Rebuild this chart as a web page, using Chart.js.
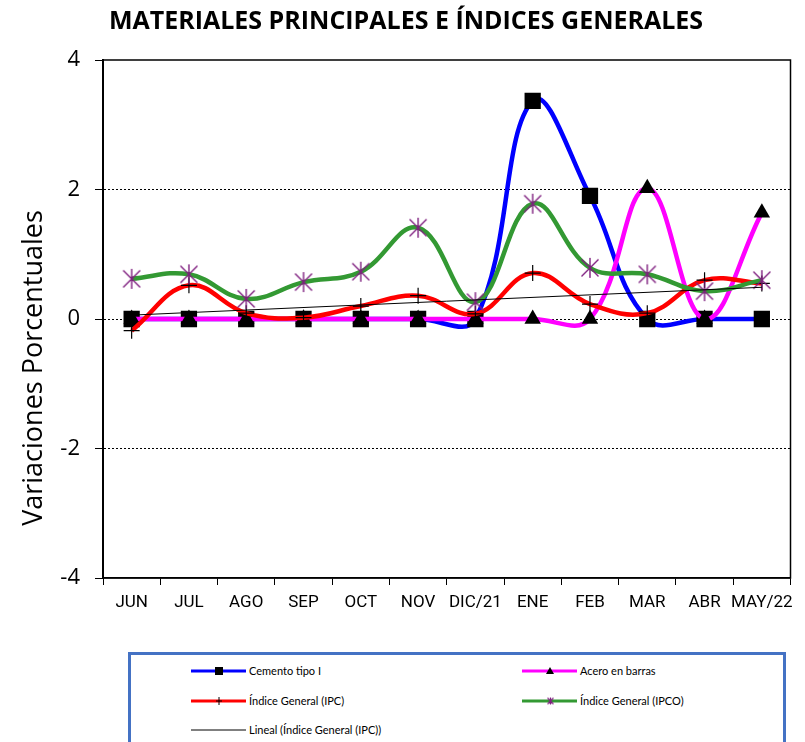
<!DOCTYPE html>
<html>
<head>
<meta charset="utf-8">
<script src="https://cdn.jsdelivr.net/npm/chart.js@4.4.1/dist/chart.umd.min.js"></script>
<style>
  html, body { margin: 0; padding: 0; background: #fff; }
  #wrap { position: relative; width: 805px; height: 742px; overflow: hidden; }
  #chart { position: absolute; left: 0; top: 0; }
  #legend {
    position: absolute; left: 128px; top: 652px; width: 658px; height: 110px;
    border: 3px solid #4472C4; box-sizing: border-box; background: #fff;
    font-family: Lato, "Open Sans", sans-serif; font-size: 11px; color: #000;
  }
  .item { position: absolute; height: 14px; line-height: 14px; white-space: nowrap; }
  .item canvas { position: absolute; left: 0; top: 0; }
  .item span { position: absolute; left: 58px; top: 0; }
</style>
</head>
<body>
<div id="wrap">
  <canvas id="chart" width="805" height="742"></canvas>
  <div id="legend"></div>
</div>
<script>
// Data
const months = ['JUN', 'JUL', 'AGO', 'SEP', 'OCT', 'NOV', 'DIC/21', 'ENE', 'FEB', 'MAR', 'ABR', 'MAY/22'];
const cemento = [0, 0, 0, 0, 0, 0, 0, 3.37, 1.9, 0, 0, 0];
const acero = [0, 0, 0, 0, 0, 0, 0, 0, 0, 2.02, 0, 1.64];
const ipc = [-0.18, 0.52, 0.09, 0.02, 0.2, 0.36, 0.08, 0.71, 0.23, 0.09, 0.6, 0.55];
const ipco = [0.62, 0.69, 0.31, 0.57, 0.73, 1.41, 0.26, 1.78, 0.79, 0.69, 0.43, 0.6];
// trend line of IPC: only its two ends
const tendencia = [0.06, null, null, null, null, null, null, null, null, null, null, 0.49];
const yTicks = [-4, -2, 0, 2, 4];

// star marker (X with a vertical bar) like the one in the picture
function makeStar(size, color, lw) {
  const c = document.createElement('canvas');
  c.width = size; c.height = size;
  const g = c.getContext('2d');
  const m = size / 2, r = size / 2 - 1;
  g.strokeStyle = color;
  g.lineWidth = lw;
  g.beginPath();
  g.moveTo(m - r * 0.85, m - r * 0.85); g.lineTo(m + r * 0.85, m + r * 0.85);
  g.moveTo(m + r * 0.85, m - r * 0.85); g.lineTo(m - r * 0.85, m + r * 0.85);
  g.moveTo(m, m - r); g.lineTo(m, m + r);
  g.stroke();
  return c;
}
const starBig = makeStar(22, '#7f1f7f', 1.4);

// box around the plot area, the title and the y axis title (placed like the picture)
const framePlugin = {
  id: 'frame',
  afterDraw(chart) {
    const a = chart.chartArea, ctx = chart.ctx;
    ctx.save();
    ctx.strokeStyle = '#000';
    ctx.lineWidth = 1.5;
    ctx.strokeRect(a.left, a.top, a.right - a.left, a.bottom - a.top);
    ctx.fillStyle = '#000';
    ctx.textAlign = 'center';
    ctx.textBaseline = 'middle';
    ctx.font = 'bold 25px "Open Sans"';
    ctx.fillText('MATERIALES PRINCIPALES E ÍNDICES GENERALES', 406, 22);
    ctx.translate(34, 368);
    ctx.rotate(-Math.PI / 2);
    ctx.font = '27px "Open Sans"';
    ctx.fillText('Variaciones Porcentuales', 0, 0);
    ctx.restore();
  }
};

const ctx = document.getElementById('chart').getContext('2d');
new Chart(ctx, {
  type: 'line',
  data: {
    labels: months,
    datasets: [
      {
        label: 'Cemento tipo I', data: cemento, order: 5,
        borderColor: '#0000ff', borderWidth: 4.5, tension: 0.4,
        pointStyle: 'rect', pointRadius: 11.5, pointBackgroundColor: '#000', pointBorderColor: '#000', pointBorderWidth: 0
      },
      {
        label: 'Acero en barras', data: acero, order: 4,
        borderColor: '#ff00ff', borderWidth: 4.5, tension: 0.4,
        pointStyle: 'triangle', pointRadius: 9.5, pointBackgroundColor: '#000', pointBorderColor: '#000', pointBorderWidth: 0
      },
      {
        label: 'Índice General (IPC)', data: ipc, order: 3,
        borderColor: '#ff0000', borderWidth: 4.5, tension: 0.4,
        pointStyle: 'cross', pointRadius: 8, pointBorderColor: '#000', pointBorderWidth: 1.2
      },
      {
        label: 'Índice General (IPCO)', data: ipco, order: 2,
        borderColor: '#339933', borderWidth: 4.5, tension: 0.4,
        pointStyle: starBig, pointRadius: 10
      },
      {
        label: 'Lineal (Índice General (IPC))', data: tendencia, order: 1,
        borderColor: '#000', borderWidth: 1, tension: 0, spanGaps: true, pointRadius: 0
      }
    ]
  },
  options: {
    responsive: false,
    animation: false,
    events: [],
    layout: { padding: { left: 0, right: 12, top: 60, bottom: 124 } },
    plugins: {
      legend: { display: false },
      tooltip: { enabled: false },
      title: { display: false }
    },
    scales: {
      x: {
        offset: true,
        afterFit(scale) { scale.height = 40; },
        grid: { offset: true, drawOnChartArea: false, drawTicks: true, tickLength: 7, color: '#000', lineWidth: 1 },
        border: { display: true, color: '#000', width: 1.5 },
        ticks: {
          autoSkip: false, maxRotation: 0, padding: 8, color: '#000',
          font: { family: 'Roboto', size: 17 }
        }
      },
      y: {
        min: -4, max: 4,
        afterFit(scale) { scale.width = 103; },
        afterBuildTicks(scale) { scale.ticks = yTicks.map(v => ({ value: v })); },
        grid: {
          drawTicks: true, tickLength: 8, tickColor: '#000', tickWidth: 1,
          lineWidth: 1,
          color: c => (c.tick && Math.abs(c.tick.value) === 4) ? 'rgba(0,0,0,0)' : '#000'
        },
        border: { display: true, color: '#000', width: 2, dash: [2, 2] },
        ticks: {
          padding: 15, color: '#000',
          font: { family: '"Open Sans"', size: 22 }
        }
      }
    }
  },
  plugins: [framePlugin]
});

// legend drawn as html, with small canvas samples
const legendItems = [
  { text: 'Cemento tipo I', color: '#0000ff', marker: 'square', x: 60, y: 9 },
  { text: 'Acero en barras', color: '#ff00ff', marker: 'triangle', x: 391, y: 9 },
  { text: 'Índice General (IPC)', color: '#ff0000', marker: 'cross', x: 60, y: 39 },
  { text: 'Índice General (IPCO)', color: '#339933', marker: 'star', x: 391, y: 39 },
  { text: 'Lineal (Índice General (IPC))', color: '#000', marker: 'none', x: 60, y: 68, thin: true }
];
const legend = document.getElementById('legend');
legendItems.forEach(it => {
  const div = document.createElement('div');
  div.className = 'item';
  div.style.left = it.x + 'px';
  div.style.top = it.y + 'px';
  const c = document.createElement('canvas');
  c.width = 56; c.height = 14;
  const g = c.getContext('2d');
  g.strokeStyle = it.color;
  g.lineWidth = it.thin ? 1 : 3;
  g.beginPath(); g.moveTo(0, 7); g.lineTo(55, 7); g.stroke();
  g.fillStyle = '#000';
  if (it.marker === 'square') g.fillRect(24, 3, 8, 8);
  if (it.marker === 'triangle') { g.beginPath(); g.moveTo(28, 3); g.lineTo(32, 10); g.lineTo(24, 10); g.closePath(); g.fill(); }
  if (it.marker === 'cross') { g.strokeStyle = '#000'; g.lineWidth = 1; g.beginPath(); g.moveTo(28, 3); g.lineTo(28, 11); g.moveTo(25, 7); g.lineTo(31, 7); g.stroke(); }
  if (it.marker === 'star') g.drawImage(makeStar(9, '#7f1f7f', 1.2), 24, 2.5);
  div.appendChild(c);
  const s = document.createElement('span');
  s.textContent = it.text;
  div.appendChild(s);
  legend.appendChild(div);
});
</script>
</body>
</html>
